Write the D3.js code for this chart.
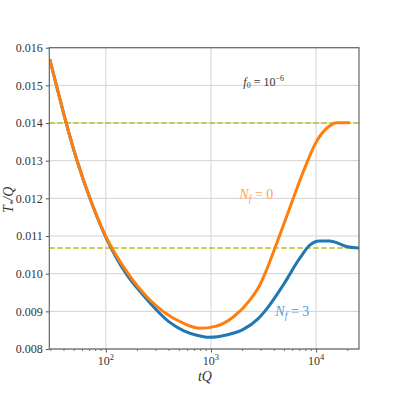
<!DOCTYPE html>
<html>
<head>
<meta charset="utf-8">
<script src="https://cdn.jsdelivr.net/npm/d3@7"></script>
<style>
  body { margin: 0; background: #fff; }
  svg text { font-family: "Liberation Serif", "DejaVu Serif", serif !important; }
</style>
</head>
<body>
<div id="chart"></div>
<script>
// data: [tQ, T*/Q]
var nf0 = [[29.25,0.0157],[33.9,0.0150],[42.0,0.0140],[53.3,0.0130],[70.6,0.0120],[99.5,0.0110],
  [163,0.0100],[263,0.0093],[350,0.0090],[550,0.00868],[787,0.00855],[1100,0.00860],
  [1630,0.00885],[2345,0.0093],[2920,0.0097],[3380,0.0101],[3990,0.01062],[4520,0.01103],
  [5460,0.01165],[7590,0.01272],[10150,0.01352],[13100,0.0139],[15700,0.01401],[21000,0.01401]];
var nf3 = [[29.25,0.0157],[33.9,0.0150],[42.0,0.0140],[53.3,0.0130],[70.6,0.0120],[99.5,0.01098],
  [156,0.0100],[220,0.00947],[300,0.00905],[400,0.00872],[546,0.00849],[750,0.00836],
  [980,0.00831],[1400,0.00837],[2030,0.00852],[2800,0.0088],[3380,0.00906],[4870,0.0097],
  [7000,0.01041],[8710,0.01076],[10800,0.01087],[13500,0.01087],[16500,0.0108],
  [19500,0.01072],[25600,0.01068]];
var hlines = [0.0140, 0.01068];
var yTicks = [0.008,0.009,0.010,0.011,0.012,0.013,0.014,0.015,0.016];
var xTicks = [100, 1000, 10000];

var margin = {top: 47.7, right: 40, bottom: 50, left: 49.3},
    width = 399 - margin.left - margin.right,
    height = 399 - margin.top - margin.bottom;

var svg = d3.select("#chart").append("svg")
    .attr("width", 399).attr("height", 399)
  .append("g")
    .attr("transform", "translate(" + margin.left + "," + margin.top + ")");

var x = d3.scaleLog().domain([29, 25600]).range([0, width]);
var y = d3.scaleLinear().domain([0.008, 0.016]).range([height, 0]);

// grid
svg.append("g").selectAll("line").data(yTicks).enter().append("line")
  .attr("x1", 0).attr("x2", width)
  .attr("y1", function(d){ return y(d); }).attr("y2", function(d){ return y(d); })
  .attr("stroke", "#d2d2d2").attr("stroke-width", 1);
svg.append("g").selectAll("line").data(xTicks).enter().append("line")
  .attr("y1", 0).attr("y2", height)
  .attr("x1", function(d){ return x(d); }).attr("x2", function(d){ return x(d); })
  .attr("stroke", "#d2d2d2").attr("stroke-width", 1);

// dashed reference lines
svg.append("g").selectAll("line").data(hlines).enter().append("line")
  .attr("x1", 0).attr("x2", width)
  .attr("y1", function(d){ return y(d); }).attr("y2", function(d){ return y(d); })
  .attr("stroke", "#bcbd22").attr("stroke-width", 1.5)
  .attr("stroke-dasharray", "5.5,2.5");

var line = d3.line()
  .x(function(d){ return x(d[0]); })
  .y(function(d){ return y(d[1]); })
  .curve(d3.curveMonotoneX);

svg.append("clipPath").attr("id", "clip").append("rect")
  .attr("width", width).attr("height", height);

svg.append("path").datum(nf3).attr("d", line)
  .attr("clip-path", "url(#clip)")
  .attr("fill", "none").attr("stroke", "#1f77b4").attr("stroke-width", 3);
svg.append("path").datum(nf0).attr("d", line)
  .attr("clip-path", "url(#clip)")
  .attr("fill", "none").attr("stroke", "#ff7f0e").attr("stroke-width", 3);

// axes
var yAxis = svg.append("g")
  .call(d3.axisLeft(y).tickValues(yTicks).tickFormat(d3.format(".3f")).tickSize(3.5).tickPadding(3));
yAxis.select(".domain").remove();
yAxis.selectAll("text").attr("font-size", 12).attr("fill", "#333");
yAxis.selectAll("line").attr("stroke", "#555");

var xAxis = svg.append("g")
  .attr("transform", "translate(0," + height + ")")
  .call(d3.axisBottom(x).tickValues(xTicks).tickSize(3.5).tickFormat(""));
xAxis.select(".domain").remove();
xAxis.selectAll("line").attr("stroke", "#555");

// minor ticks
var minor = x.ticks().filter(function(d){ return xTicks.indexOf(d) < 0; });
svg.append("g").selectAll("line").data(minor).enter().append("line")
  .attr("x1", function(d){ return x(d); }).attr("x2", function(d){ return x(d); })
  .attr("y1", height).attr("y2", height + 2)
  .attr("stroke", "#555").attr("stroke-width", 0.8);

// x tick labels with superscripts
var xl = svg.append("g").selectAll("text").data(xTicks).enter().append("text")
  .attr("x", function(d){ return x(d); }).attr("y", height + 16)
  .attr("text-anchor", "middle").attr("font-size", 12).attr("fill", "#333");
xl.append("tspan").text("10");
xl.append("tspan").attr("dy", -5).attr("font-size", 8.5)
  .text(function(d){ return Math.round(Math.log10(d)); });

// frame
svg.append("rect").attr("width", width).attr("height", height)
  .attr("fill", "none").attr("stroke", "#666").attr("stroke-width", 1.2);

// axis labels
var xlab = svg.append("text").attr("x", x(1000) - 6).attr("y", height + 32)
  .attr("text-anchor", "middle").attr("font-size", 14).attr("fill", "#333")
  .attr("font-style", "italic");
xlab.text("tQ");

var ylab = svg.append("text")
  .attr("transform", "translate(" + (-36) + "," + y(0.01196) + ") rotate(-90)")
  .attr("text-anchor", "middle").attr("font-size", 14).attr("fill", "#333")
  .attr("font-style", "italic");
ylab.append("tspan").text("T");
ylab.append("tspan").attr("dy", 3).attr("font-size", 9).text("*");
ylab.append("tspan").attr("dy", -3).text("/Q");

// annotations
var f0 = svg.append("text").attr("x", 194).attr("y", 38)
  .attr("font-size", 12).attr("fill", "#333");
f0.append("tspan").attr("font-style", "italic").text("f");
f0.append("tspan").attr("dy", 2).attr("font-size", 8).text("0");
f0.append("tspan").attr("dy", -2).text(" = 10");
f0.append("tspan").attr("dy", -5).attr("font-size", 8).text("\u22126");

var n0 = svg.append("text").attr("x", 190).attr("y", 151)
  .attr("font-size", 14).attr("fill", "#ffa64d");
n0.append("tspan").attr("font-style", "italic").text("N");
n0.append("tspan").attr("dy", 3).attr("font-size", 10).attr("font-style", "italic").text("f");
n0.append("tspan").attr("dy", -3).text(" = 0");

var n3 = svg.append("text").attr("x", 226).attr("y", 268)
  .attr("font-size", 14).attr("fill", "#5b9bd0");
n3.append("tspan").attr("font-style", "italic").text("N");
n3.append("tspan").attr("dy", 3).attr("font-size", 10).attr("font-style", "italic").text("f");
n3.append("tspan").attr("dy", -3).text(" = 3");
</script>
</body>
</html>
